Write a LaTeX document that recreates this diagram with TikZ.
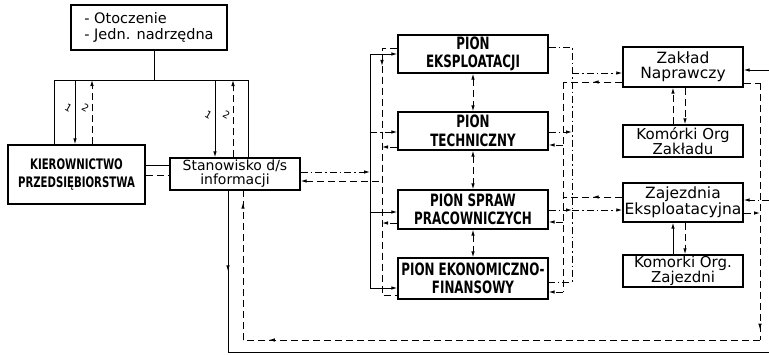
\documentclass[tikz,border=0pt]{standalone}
\usepackage{fontspec}
\setmainfont{DejaVu Sans}
\newfontfamily\narrowfont[FakeStretch=0.7]{DejaVu Sans}
\usetikzlibrary{arrows.meta, calc, decorations.markings}

\tikzset{
  box/.style={draw, line width=1.3pt, align=center, inner sep=1pt},
  pion/.style={box, minimum width=150pt, minimum height=38pt, font=\narrowfont\bfseries\fontsize{17}{18.5}\selectfont},
  unit/.style={box, minimum width=120pt, minimum height=39pt, font=\fontsize{15.5}{15}\selectfont},
  cell/.style={box, minimum width=120pt, minimum height=32pt, font=\fontsize{15}{14}\selectfont},
  ctrl/.style={line width=0.9pt},
  info/.style={line width=0.9pt, dash pattern=on 7pt off 4pt},
  ddot/.style={line width=0.9pt, dash pattern=on 7pt off 3pt on 1.5pt off 3pt},
  arrowat/.style={postaction=decorate, decoration={markings, mark=at position #1 with {\arrow{>}}}},
  num/.style={font=\fontsize{10}{10}\selectfont, rotate=-30, inner sep=1pt},
}

\begin{document}
\begin{tikzpicture}[x=1pt, y=-1pt, >={Latex[length=6pt,width=3.5pt]}]
  \useasboundingbox (0,0) rectangle (769,354);
  % units
  \node[box, minimum width=156pt, minimum height=45pt, align=left, font=\fontsize{14.5}{16.5}\selectfont] (env) at (149,27.5) {- Otoczenie\\- Jedn. nadrzędna};
  \node[box, minimum width=137pt, minimum height=59pt, font=\narrowfont\bfseries\fontsize{14.5}{18}\selectfont] (kier) at (76.5,174.5) {KIEROWNICTWO\\PRZEDSIĘBIORSTWA};
  \node[box, minimum width=130pt, minimum height=32pt, inner sep=0.5pt, font=\fontsize{14}{14}\selectfont] (info) at (235,174) {Stanowisko d/s\\informacji};
  \node[pion] (p1) at (473,54) {PION\\EKSPLOATACJI};
  \node[pion] (p2) at (473,131) {PION\\TECHNICZNY};
  \node[pion, minimum height=39pt] (p3) at (473,209.5) {PION SPRAW\\PRACOWNICZYCH};
  \node[pion, minimum height=41pt] (p4) at (473,278.5) {PION EKONOMICZNO-\\FINANSOWY};
  \node[unit, minimum height=40pt] (zn) at (683,67) {Zakład\\Naprawczy};
  \node[cell] (kz) at (683,141) {Komórki Org\\Zakładu};
  \node[unit] (zj) at (683,202.5) {Zajezdnia\\Eksploatacyjna};
  \node[cell] (kzj) at (683,271) {Komorki Org.\\Zajezdni};

  % bus lines
  \coordinate (t0) at (154,80); \coordinate (tl) at (54,80); \coordinate (tr) at (248,80);
  \coordinate (a1) at (75,80); \coordinate (a2) at (92,80);
  \coordinate (b1) at (215,80); \coordinate (b2) at (233,80);
  \coordinate (la) at (370,0); \coordinate (lb) at (382,0);
  \coordinate (ra) at (563,0); \coordinate (rb) at (572,0);
  \coordinate (rr) at (760,0); \coordinate (edge) at (769,0);
  \coordinate (sd) at (228,352); \coordinate (id) at (243,340);

  % top
  \draw[ctrl] (env.south -| t0) -- (t0);
  \draw[ctrl] (kier.north -| tl) -- (tl) -- (tr) -- (info.north -| tr);
  \draw[ctrl,->] (a1) -- (kier.north -| a1) node[num, midway, left=3pt] {1};
  \draw[info,->] (kier.north -| a2) -- (a2) node[num, midway, left=3pt] {2};
  \draw[ctrl,->] (b1) -- (info.north -| b1) node[num, midway, left=3pt] {1};
  \draw[info,->] (info.north -| b2) -- (b2) node[num, midway, left=3pt] {2};
  \draw[ctrl] ([yshift=9pt]info.west -| kier.east) -- ([yshift=9pt]info.west);
  \draw[info] ([yshift=-1pt]info.west -| kier.east) -- ([yshift=-1pt]info.west);

  % left of the pions
  \draw[ddot,->] ([yshift=2pt]info.east) -- ([yshift=2pt]info.east -| la);
  \draw[info,<-] ([yshift=-7pt]info.east) -- ([yshift=-7pt]info.east -| lb);
  \draw[ctrl] (p1.west -| la) -- ([yshift=-9.5pt]p4.west -| la);
  \draw[ctrl,->] (p1.west -| la) -- (p1.west);
  \draw[ddot,->] ([yshift=-1pt]p2.west -| la) -- ([yshift=-1pt]p2.west);
  \draw[ctrl,->] ([yshift=-2.5pt]p3.west -| la) -- ([yshift=-2.5pt]p3.west);
  \draw[ctrl,->] ([yshift=-9.5pt]p4.west -| la) -- ([yshift=-9.5pt]p4.west);
  \draw[info, arrowat=0.12] ([yshift=6pt]p1.west) -- ([yshift=6pt]p1.west -| lb) -- ([yshift=-16.5pt]p4.west -| lb) -- ([yshift=-16.5pt]p4.west);
  \draw[info,->] ([yshift=-16pt]p2.west) -- ([yshift=-16pt]p2.west -| lb);
  \draw[info,->] ([yshift=-13.5pt]p3.west) -- ([yshift=-13.5pt]p3.west -| lb);
  % between the pions
  \draw[info,<->] (p1.south) -- (p2.north);
  \draw[info,<->] (p2.south) -- (p3.north);
  \draw[info,<->] (p3.south) -- (p4.north);

  % right of the pions
  \draw[ddot] ([yshift=7pt]p1.east) -- ([yshift=7pt]p1.east -| rb) -- ([yshift=-3.5pt]p4.east -| rb) -- ([yshift=-3.5pt]p4.east);
  \draw[ddot,->] ([yshift=-1pt]p2.east) -- ([yshift=-1pt]p2.east -| rb);
  \draw[ddot,->] ([yshift=-0.5pt]p3.east) -- ([yshift=-0.5pt]p3.east -| rb);
  \draw[ddot,->] ([yshift=-6pt]zn.west -| rb) -- ([yshift=-6pt]zn.west);
  \draw[ddot,->] ([yshift=-7.5pt]zj.west -| rb) -- ([yshift=-7.5pt]zj.west);
  \draw[info] ([yshift=-15pt]zn.west -| ra) -- ([yshift=-13.5pt]p4.east -| ra);
  \draw[info, arrowat=0.5] ([yshift=-15pt]zn.west) -- ([yshift=-15pt]zn.west -| ra);
  \draw[info, arrowat=0.5] ([yshift=5.5pt]zj.west) -- ([yshift=5.5pt]zj.west -| ra);
  \draw[info,->] ([yshift=-14pt]p2.east -| ra) -- ([yshift=-14pt]p2.east);
  \draw[info,->] ([yshift=-12.5pt]p3.east -| ra) -- ([yshift=-12.5pt]p3.east);
  \draw[info,->] ([yshift=-13.5pt]p4.east -| ra) -- ([yshift=-13.5pt]p4.east);

  % units and cells
  \draw[info,->] ([xshift=-10pt]kz.north) -- ([xshift=-10pt]zn.south);
  \draw[info,->] ([xshift=2pt]zn.south) -- ([xshift=2pt]kz.north);
  \draw[ctrl,->] ([xshift=-10pt]kzj.north) -- ([xshift=-10pt]zj.south);
  \draw[info,->] ([xshift=2pt]zj.south) -- ([xshift=2pt]kzj.north);

  % outer loop
  \draw[ctrl,->] ([yshift=-3pt]zn.east -| edge) -- ([yshift=-3pt]zn.east);
  \draw[ddot,->] ([yshift=2.5pt]zj.east -| edge) -- ([yshift=2.5pt]zj.east);
  \draw[info,->] ([yshift=-10.5pt]zj.east) -- ([yshift=-10.5pt]zj.east -| rr);
  \draw[info] ([yshift=-16pt]zn.east) -- ([yshift=-16pt]zn.east -| rr);
  \draw[info, arrowat=0.96] ([yshift=-16pt]zn.east -| rr) -- (rr |- id);
  \draw[info, arrowat=0.95] (rr |- id) -- (id);
  \draw[info, arrowat=0.92] (id) -- (info.south -| id);
  \draw[ctrl, arrowat=0.5] (info.south -| sd) -- (sd);
  \draw[ctrl] (sd) -- (sd -| edge);
\end{tikzpicture}
\end{document}
